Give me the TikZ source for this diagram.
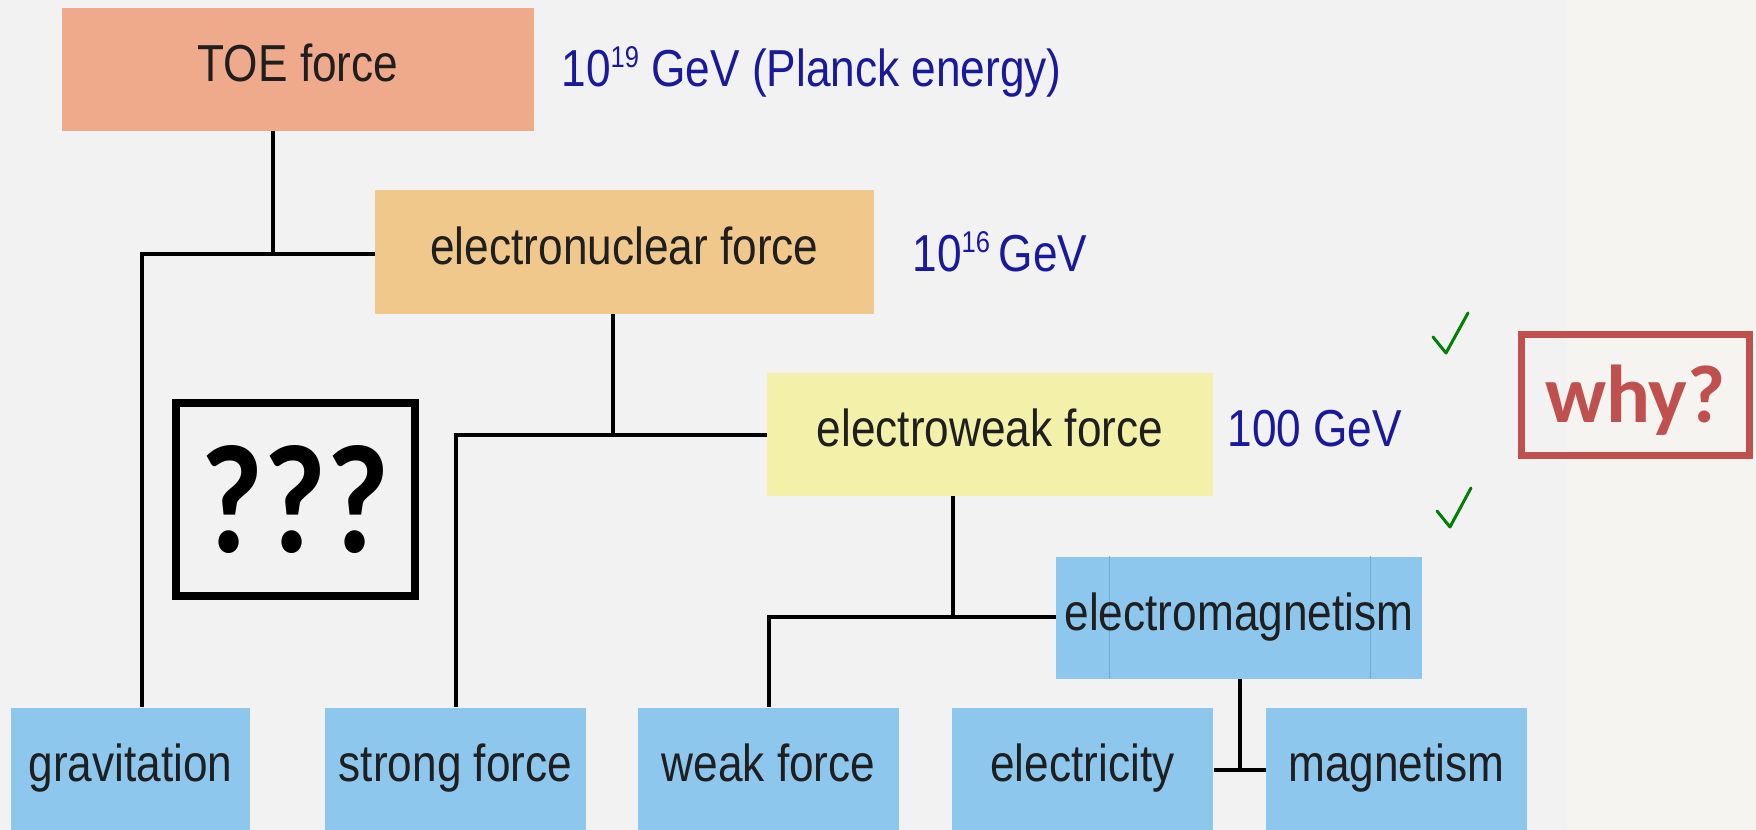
\documentclass[tikz,border=0pt]{standalone}
\usepackage{fontspec}
\setmainfont{Liberation Sans}
\newfontfamily\boxfont[FakeStretch=0.85]{Liberation Sans}
\newfontfamily\calib[FakeStretch=0.88]{Carlito}
\newfontfamily\calibw{Carlito}
\definecolor{bg}{RGB}{242,242,242}
\definecolor{bgr}{RGB}{245,244,240}
\definecolor{toec}{RGB}{239,170,140}
\definecolor{enucc}{RGB}{240,200,140}
\definecolor{ewc}{RGB}{243,240,170}
\definecolor{bluec}{RGB}{142,199,238}
\definecolor{emline}{RGB}{110,170,215}
\definecolor{labblue}{RGB}{25,25,155}
\definecolor{chk}{RGB}{0,128,0}
\definecolor{whyred}{RGB}{192,80,77}
\newcommand{\sups}[1]{\raisebox{0.7ex}{\fontsize{12}{12}\selectfont #1}}
\begin{document}
\begin{tikzpicture}[x=0.4pt,y=-0.4pt,
  wh/.style 2 args={minimum width=#1*0.4pt, minimum height=#2*0.4pt},
  box/.style={rectangle, inner sep=0pt, text=black!88,
    font=\boxfont\fontsize{20.8}{24}\selectfont, text height=10pt, text depth=0pt},
  lab/.style={anchor=base west, inner sep=0pt, text=labblue,
    font=\boxfont\fontsize{20.8}{24}\selectfont},
  conn/.style={line width=1.3pt, black},
  check/.style={line width=1.2pt, chk, line join=round, line cap=round}]
\fill[bg] (0,0) rectangle (1756,830);
\fill[bgr] (1567,0) rectangle (1756,830);
\useasboundingbox (0,0) rectangle (1756,830);

% boxes
\node[box, fill=toec, wh={472}{123}] (toe) at (298,69.5) {TOE force};
\node[box, fill=enucc, wh={499}{124}] (enuc) at (624.5,252) {electronuclear force};
\node[box, fill=ewc, wh={446}{123}] (ew) at (990,434.5) {electroweak force};
\node[box, fill=bluec, wh={366}{122}] (em) at (1239,618) {};
\node[box, fill=bluec, wh={239}{122}] (grav) at (130.5,769) {gravitation};
\node[box, fill=bluec, wh={261}{122}] (strong) at (455.5,769) {strong force};
\node[box, fill=bluec, wh={261}{122}] (weak) at (768.5,769) {weak force};
\node[box, fill=bluec, wh={261}{122}] (elec) at (1082.5,769) {electricity};
\node[box, fill=bluec, wh={261}{122}] (mag) at (1396.5,769) {magnetism};

% faint lines inside electromagnetism
\coordinate (v1) at (1109,0);
\coordinate (v2) at (1370,0);
\draw[emline, line width=0.4pt] (v1 |- em.north) -- (v1 |- em.south);
\draw[emline, line width=0.4pt] (v2 |- em.north) -- (v2 |- em.south);
\node[box, wh={366}{122}] (emt) at (1239,618) {electromagnetism};

% energy labels
\node[lab] (l1) at (561,87) {10\sups{19} GeV (Planck energy)};
\node[lab] (l2) at (912,272) {10\sups{16}\,GeV};
\node[lab] (l3) at (1227,447) {100 GeV};

% connectors
\coordinate (j1) at (273,254);
\coordinate (g1) at (142,254);
\draw[conn] (toe.south -| j1) -- (j1);
\draw[conn] (enuc.west |- g1) -- (g1) -- (g1 |- grav.north);

\coordinate (j2) at (613,435);
\coordinate (s1) at (456,435);
\draw[conn] (enuc.south -| j2) -- (j2);
\draw[conn] (ew.west |- s1) -- (s1) -- (s1 |- strong.north);

\coordinate (j3) at (953,617);
\coordinate (w1) at (769,617);
\draw[conn] (ew.south -| j3) -- (j3);
\draw[conn] (em.west |- w1) -- (w1) -- (w1 |- weak.north);

\coordinate (j4) at (1240,770);
\draw[conn] (em.south -| j4) -- (j4);
\draw[conn] (elec.east |- j4) -- (mag.west |- j4);

% question box
\node[draw=black, line width=3.2pt, inner sep=0pt, wh={239}{193},
  font=\calib\bfseries\fontsize{62}{62}\selectfont] (qq) at (295.5,499.5) {???};

% why box
\node[draw=whyred, line width=2.8pt, inner sep=0pt, wh={228}{121}, text=whyred,
  text height=22.4pt, text depth=0pt,
  font=\calibw\bfseries\fontsize{32.8}{33}\selectfont] (why) at (1635.5,395) {why?};

% check marks
\draw[check] (1433,337) -- (1446,353) -- (1468,313);
\draw[check] (1437,511) -- (1450,527) -- (1471,488);
\end{tikzpicture}
\end{document}
